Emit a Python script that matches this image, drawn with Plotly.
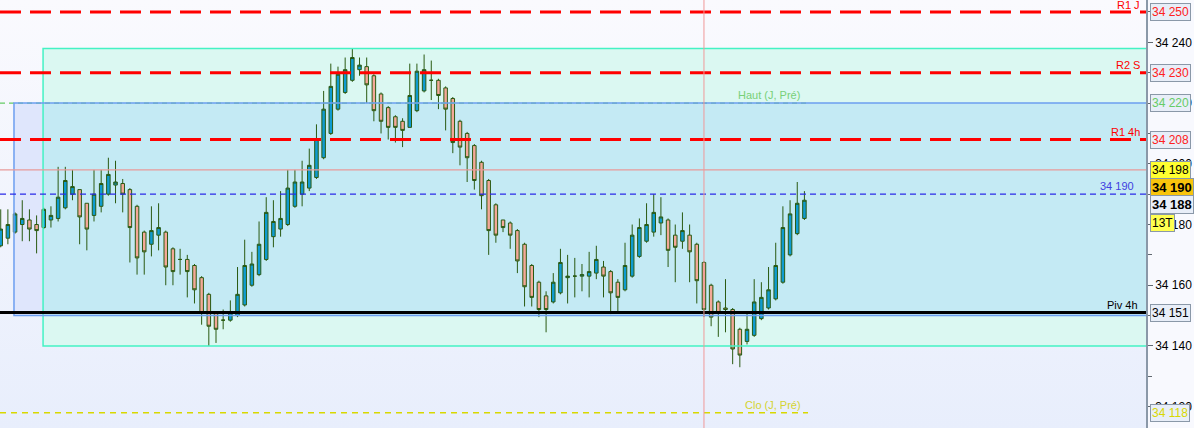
import base64

import plotly.graph_objs as go

# bougies (index de bougie -> cours)
opens = [34173, 34175.5, 34177.5, 34180, 34181.5, 34180, 34179, 34181.5, 34182, 34185.5,
         34190, 34191.5, 34187, 34183, 34186, 34190, 34193, 34193.5, 34191.5, 34186,
         34177.5, 34173.5, 34176.5, 34177.5, 34172, 34168.5, 34168.5, 34166.5, 34162.5, 34157,
         34151, 34148.5, 34148.5, 34150, 34153.5, 34160, 34163.5, 34168.5, 34176, 34178.5,
         34180, 34186, 34190, 34192, 34195.5, 34202, 34210, 34218, 34223.5, 34227.5,
         34231, 34232, 34229, 34223, 34218.5, 34215.5, 34214, 34212, 34217.5, 34224,
         34227.5, 34227.5, 34225, 34221.5, 34214, 34210, 34206, 34200.5, 34194.5, 34186.5,
         34181.5, 34180.5, 34178, 34173.5, 34166.5, 34161, 34156.5, 34154.5, 34157.5, 34162.5,
         34163, 34163, 34163, 34164, 34166, 34164.5, 34161, 34158.5, 34163, 34169.5,
         34174.5, 34177.5, 34180.5, 34181.5, 34176.5, 34174.5, 34176.5, 34173.5, 34167.5, 34160,
         34154.5, 34152.5, 34152, 34145.5, 34141.5, 34143.5, 34149, 34152.5, 34155.5, 34161,
         34170, 34177, 34182]
highs = [34185, 34185, 34184, 34188, 34185, 34183, 34185.5, 34186, 34199, 34199,
         34198, 34191.5, 34187, 34198, 34198, 34202, 34201, 34195, 34192, 34186.5,
         34178, 34186, 34187, 34178, 34172.5, 34172, 34170, 34167, 34163, 34157.5,
         34151.5, 34152, 34155, 34166, 34175, 34171, 34181, 34189, 34188, 34191,
         34198, 34198, 34201, 34205, 34213, 34224, 34233, 34232, 34235, 34238,
         34235, 34235, 34229.5, 34223.5, 34219, 34216, 34215, 34233, 34233, 34236,
         34234, 34228, 34225.5, 34222, 34214.5, 34210.5, 34206.5, 34201, 34195, 34187,
         34181.5, 34181, 34178.5, 34174, 34167, 34161.5, 34158, 34164, 34172, 34170,
         34169, 34167, 34171, 34173, 34168, 34165, 34162, 34174, 34180, 34182,
         34187, 34190, 34189, 34182, 34180, 34184, 34180, 34174, 34168, 34160.5,
         34155, 34162, 34152.5, 34146, 34151, 34162, 34161, 34166, 34174, 34186,
         34188, 34194, 34191]
lows = [34172.5, 34173.5, 34177, 34174.5, 34174.5, 34170.5, 34178.5, 34179, 34181, 34185,
        34188, 34173.5, 34171.5, 34181, 34184, 34189.5, 34187, 34184, 34167.5, 34163.5,
        34163.5, 34169.5, 34171.5, 34160, 34160, 34163.5, 34156, 34154, 34147, 34140,
        34141, 34145.5, 34148, 34149.5, 34153, 34159.5, 34163, 34168, 34172.5, 34176,
        34179.5, 34185.5, 34186, 34191, 34195, 34201.5, 34209.5, 34217.5, 34223, 34227,
        34229, 34220, 34214, 34210, 34208, 34207, 34205.5, 34212, 34217, 34223.5,
        34221, 34218, 34211, 34203.5, 34199.5, 34194, 34191.5, 34185, 34170, 34174,
        34177.5, 34172, 34164, 34153, 34153, 34149.5, 34144.5, 34154, 34157, 34154,
        34156, 34158, 34156, 34162, 34156, 34150.5, 34151, 34158, 34162.5, 34169,
        34174, 34176, 34176.5, 34166, 34161, 34172, 34161, 34154, 34149.5, 34146.5,
        34143, 34144.5, 34134, 34133, 34140.5, 34143, 34148.5, 34152, 34155, 34160.5,
        34169.5, 34176.5, 34181.5]
closes = [34178.5, 34180, 34183.5, 34182, 34178.5, 34178, 34185, 34183, 34189, 34194.5,
          34192.5, 34182.5, 34178.5, 34190, 34193.5, 34196.5, 34194, 34190, 34179, 34169,
          34171, 34178, 34179, 34166, 34164.5, 34168.5, 34164.5, 34158.5, 34151, 34146.5,
          34145.5, 34148.5, 34151, 34157, 34166.5, 34167, 34173.5, 34184, 34181, 34182,
          34192, 34194, 34194, 34199.5, 34208, 34218, 34225.5, 34229.5, 34231, 34235,
          34232.5, 34226, 34217.5, 34214, 34212, 34212, 34211, 34222.5, 34230.5, 34231,
          34227.5, 34222.5, 34218, 34207, 34205.5, 34202, 34194.5, 34189.5, 34178, 34176.5,
          34179, 34176.5, 34168, 34159.5, 34156, 34152, 34152, 34161, 34167.5, 34163,
          34163, 34163.5, 34164.5, 34168.5, 34163, 34157.5, 34156, 34166.5, 34176.5, 34179,
          34180, 34184, 34182.5, 34171.5, 34172.5, 34178, 34171, 34161.5, 34152, 34149.5,
          34151, 34152, 34139, 34137, 34145.5, 34154.5, 34156, 34158.5, 34166.5, 34179,
          34183.5, 34187, 34188]

# niveaux
r1_j = 34250
r2_s = 34230
haut_j_pre = 34220
r1_4h = 34208
niveau_198 = 34198
niveau_190 = 34190
piv_4h = 34151
clo_j_pre = 34118
zone_verte = (34140, 34238)
zone_bleue = (34150, 34220)

X_MIN, X_MAX = -0.1, 159.6
Y_MIN, Y_MAX = 34112.98, 34253.95
FONT = "Liberation Sans, Arial, sans-serif"

x = list(range(len(closes)))
x_bleu, x_vert = 1.85, 5.9
x_curseur = 98
x_fin = len(closes) - 0.5

# fond en dégradé (image svg inline)
svg = ('<svg xmlns="http://www.w3.org/2000/svg" width="10" height="10" preserveAspectRatio="none">'
       '<defs><linearGradient id="g" x1="0" y1="0" x2="0" y2="1">'
       '<stop offset="0" stop-color="#fafafe"/><stop offset="1" stop-color="#e8eefc"/>'
       '</linearGradient></defs><rect width="10" height="10" fill="url(#g)"/></svg>')
fond = "data:image/svg+xml;base64," + base64.b64encode(svg.encode()).decode()

fig = go.Figure()
fig.add_trace(go.Candlestick(
    x=x, open=opens, high=highs, low=lows, close=closes,
    increasing=dict(fillcolor="#0f9bd0", line=dict(color="#2a5a12", width=1)),
    decreasing=dict(fillcolor="#f4a898", line=dict(color="#2a5a12", width=1)),
    whiskerwidth=0, hoverinfo="none", showlegend=False))

shapes = []
# remplissage des zones (sous les bougies)
shapes.append(dict(type="rect", xref="x", yref="y", x0=x_bleu, x1=X_MAX + 5, y0=zone_bleue[0], y1=zone_bleue[1],
                   fillcolor="#dfe6fc", line=dict(width=0), layer="below"))
shapes.append(dict(type="rect", xref="x", yref="y", x0=x_vert, x1=X_MAX + 5, y0=zone_verte[0], y1=zone_verte[1],
                   fillcolor="#dbf8f2", line=dict(width=0), layer="below"))
shapes.append(dict(type="rect", xref="x", yref="y", x0=x_vert, x1=X_MAX + 5, y0=zone_bleue[0], y1=zone_bleue[1],
                   fillcolor="#c4eaf4", line=dict(width=0), layer="below"))
# bordures et niveaux (au-dessus)
shapes.append(dict(type="rect", xref="x", yref="y", x0=x_vert, x1=X_MAX + 5, y0=zone_verte[0], y1=zone_verte[1],
                   line=dict(color="#44f2c4", width=1.5)))
shapes.append(dict(type="line", xref="x", yref="y", x0=X_MIN, x1=x_fin, y0=haut_j_pre, y1=haut_j_pre,
                   line=dict(color="#66cc66", width=1.2, dash="5px,4px")))
shapes.append(dict(type="rect", xref="x", yref="y", x0=x_bleu, x1=X_MAX + 5, y0=zone_bleue[0], y1=zone_bleue[1],
                   line=dict(color="#6c9ef0", width=1.5)))
for lvl in (r1_j, r2_s, r1_4h):
    shapes.append(dict(type="line", xref="paper", yref="y", x0=0, x1=1, y0=lvl, y1=lvl,
                       line=dict(color="#ff0000", width=3, dash="21px,9px")))
shapes.append(dict(type="line", xref="paper", yref="y", x0=0, x1=1, y0=niveau_198, y1=niveau_198,
                   line=dict(color="#e89a9a", width=1.3)))
shapes.append(dict(type="line", xref="paper", yref="y", x0=0, x1=1, y0=niveau_190, y1=niveau_190,
                   line=dict(color="#2a2ae8", width=1.3, dash="6px,4px")))
shapes.append(dict(type="line", xref="paper", yref="y", x0=0, x1=1, y0=piv_4h, y1=piv_4h,
                   line=dict(color="#000000", width=3)))
shapes.append(dict(type="line", xref="x", yref="y", x0=X_MIN, x1=x_fin, y0=clo_j_pre, y1=clo_j_pre,
                   line=dict(color="#d8d800", width=1.5, dash="6px,5px")))
shapes.append(dict(type="line", xref="x", yref="paper", x0=x_curseur, x1=x_curseur, y0=0, y1=1,
                   line=dict(color="#f09898", width=1)))

annotations = []


def txt(label, y, color, xanchor="right", xshift=-4, yshift=8, x=1, xref="paper", size=11):
    annotations.append(dict(text=label, x=x, xref=xref, y=y, yref="y", xanchor=xanchor, yanchor="middle",
                            xshift=xshift, yshift=yshift, showarrow=False,
                            font=dict(family=FONT, size=size, color=color)))


txt("R1 J", r1_j, "#ff0000", yshift=7)
txt("R2 S", r2_s, "#ff0000")
txt("R1 4h", r1_4h, "#ff0000")
txt("34 190", niveau_190, "#4040e0", xshift=-10)
txt("Piv 4h", piv_4h, "#000000", xshift=-6)
txt("Haut (J, Pré)", haut_j_pre, "#78d078", xanchor="center", xshift=0, x=107.1, xref="x")
txt("Clo (J, Pré)", clo_j_pre, "#d4d430", xanchor="center", xshift=0, x=107.6, xref="x")


def box(label, y, color, bg, bold=False, size=12, yshift=0):
    annotations.append(dict(text=f"<b>{label}</b>" if bold else label, x=1, xref="paper", y=y, yref="y",
                            xanchor="left", yanchor="middle", xshift=4, yshift=yshift, showarrow=False,
                            bgcolor=bg, bordercolor="#8a98a8", borderwidth=1, borderpad=1,
                            font=dict(family=FONT, size=size, color=color)))


box("34 250", r1_j, "#ff2020", "#e8eef8")
box("34 230", r2_s, "#ff2020", "#e8eef8")
box("34 220", haut_j_pre, "#66cc66", "#e8eef8")
box("34 208", r1_4h, "#ff2020", "#e8eef8")
box("34 198", niveau_198, "#000000", "#ffff30")
box("34 190", niveau_190, "#000000", "#f8c40c", bold=True, size=13, yshift=7)
box("34 188", closes[-1], "#000000", "#e8eef8", bold=True, size=13, yshift=-4)
box("13T", 34180.5, "#000000", "#ffff50")
box("34 151", piv_4h, "#000000", "#e8eef8")
box("34 118", clo_j_pre, "#d8d800", "#e8eef8")

fig.update_layout(
    width=1194, height=428,
    margin=dict(l=0, r=48, t=0, b=0),
    paper_bgcolor="#f8f9fe", plot_bgcolor="rgba(0,0,0,0)",
    separators=". ",
    showlegend=False,
    shapes=shapes, annotations=annotations,
    images=[dict(source=fond, xref="paper", yref="paper", x=0, y=1, sizex=1, sizey=1,
                 xanchor="left", yanchor="top", sizing="stretch", layer="below")],
    xaxis=dict(range=[X_MIN, X_MAX], visible=False, rangeslider=dict(visible=False), fixedrange=True),
    yaxis=dict(range=[Y_MIN, Y_MAX], side="right", showgrid=False, zeroline=False,
               showline=True, linecolor="#8a98a8", linewidth=1.5,
               ticks="outside", ticklen=5, tickcolor="#606870",
               tick0=34120, dtick=20, tickformat=",d",
               minor=dict(ticks="outside", ticklen=4, dtick=10, tick0=34120, tickcolor="#606870"),
               tickfont=dict(family=FONT, size=12, color="#000000")),
)

fig.write_html("out.html", config={"displayModeBar": False},
               post_script="document.body.style.margin = '0';")
